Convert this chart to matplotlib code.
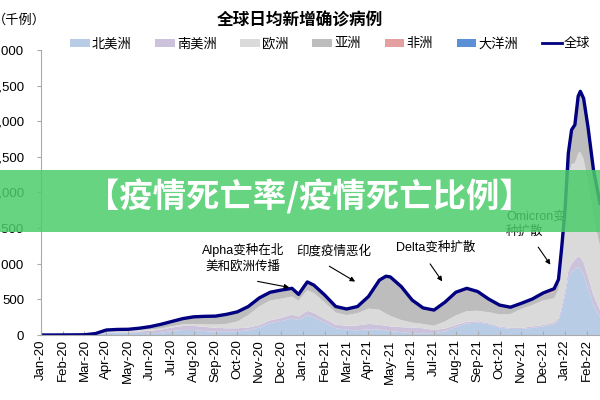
import matplotlib
matplotlib.use("Agg")
import matplotlib.pyplot as plt
from matplotlib.patches import Patch, Rectangle
from matplotlib.lines import Line2D

plt.rcParams['font.family'] = ['Liberation Sans', 'Noto Sans CJK SC', 'DejaVu Sans']

# time axis in months since Jan-2020 (0 = Jan-20)
months = [0, 0.5, 1, 1.5, 2, 2.5, 3, 3.5, 4, 4.5, 5, 5.5, 6, 6.5, 7, 7.5, 8, 8.5, 9, 9.5,
          10, 10.5, 11, 11.5, 11.8, 12.2, 12.5, 13, 13.5, 14, 14.5, 15, 15.5, 15.8, 16, 16.5,
          17, 17.5, 18, 18.5, 19, 19.5, 20, 20.5, 21, 21.5, 22, 22.5, 23, 23.5, 23.7, 23.85,
          24.0, 24.15, 24.3, 24.45, 24.6, 24.7, 24.85, 25.05, 25.3, 25.6]

# daily new cases, thousands
north_america = [0, 0, 0, 0, 0, 4, 30, 33, 33, 30, 25, 30, 55, 72, 70, 55, 47, 44, 50, 65,
                 105, 165, 195, 230, 210, 275, 245, 170, 95, 75, 65, 80, 75, 65, 55, 40,
                 25, 25, 25, 50, 110, 160, 175, 150, 105, 85, 85, 100, 120, 150, 200, 350,
                 550, 800, 880, 920, 950, 930, 850, 650, 420, 250]
south_america = [0, 0, 0, 0, 0, 0, 2, 4, 7, 20, 35, 45, 50, 55, 58, 58, 55, 50, 45, 40,
                 35, 40, 45, 55, 50, 65, 65, 55, 50, 55, 70, 75, 70, 65, 65, 70,
                 80, 70, 45, 40, 30, 25, 20, 15, 15, 15, 15, 20, 20, 25, 35, 60,
                 80, 100, 120, 140, 150, 160, 170, 170, 140, 100]
europe = [0, 0, 0, 0, 1, 13, 33, 32, 28, 22, 18, 17, 20, 23, 27, 35, 45, 62, 95, 175,
          260, 280, 270, 255, 220, 290, 280, 230, 170, 150, 170, 215, 210, 170, 150, 100,
          70, 60, 60, 100, 135, 150, 145, 155, 170, 195, 265, 300, 345, 340, 400, 650,
          900, 1300, 1400, 1350, 1450, 1480, 1450, 1330, 1100, 900]
asia = [0, 0, 1, 2, 2, 3, 5, 8, 10, 20, 33, 50, 55, 65, 83, 104, 110, 128, 128, 115,
        110, 100, 100, 90, 75, 85, 85, 85, 75, 75, 85, 160, 405, 515, 535, 460,
        300, 200, 195, 240, 290, 300, 255, 170, 120, 85, 70, 70, 80, 90, 100, 120,
        200, 300, 420, 480, 740, 800, 800, 730, 630, 580]
africa = [0, 0, 0, 0, 0, 0, 0, 1, 2, 3, 5, 8, 10, 14, 15, 9, 8, 6, 7, 5,
          10, 15, 20, 25, 15, 30, 25, 20, 10, 10, 10, 10, 10, 10, 10, 10,
          15, 25, 25, 30, 25, 15, 10, 10, 5, 5, 5, 10, 20, 40, 40, 50,
          20, 20, 20, 20, 20, 15, 15, 10, 10, 10]
oceania = [0, 0, 0, 0, 0, 0, 0, 0, 0, 0, 0, 0, 0, 1, 1, 1, 0, 0, 0, 0,
           0, 0, 0, 0, 0, 0, 0, 0, 0, 0, 0, 0, 0, 0, 0, 0,
           0, 0, 0, 0, 10, 5, 5, 5, 5, 5, 5, 5, 5, 5, 5, 10,
           10, 30, 40, 40, 40, 35, 35, 30, 20, 10]
world = [0, 0, 1, 2, 3, 20, 70, 78, 80, 95, 117, 150, 190, 230, 255, 262, 265, 290, 325, 400,
         520, 600, 630, 655, 570, 745, 700, 560, 400, 365, 400, 540, 770, 825, 815, 680,
         490, 380, 350, 460, 600, 655, 610, 505, 420, 390, 445, 505, 590, 650, 780, 1240,
         1760, 2550, 2880, 2950, 3350, 3420, 3320, 2920, 2320, 1850]

tick_labels = ['Jan-20', 'Feb-20', 'Mar-20', 'Apr-20', 'May-20', 'Jun-20', 'Jul-20', 'Aug-20',
               'Sep-20', 'Oct-20', 'Nov-20', 'Dec-20', 'Jan-21', 'Feb-21', 'Mar-21', 'Apr-21',
               'May-21', 'Jun-21', 'Jul-21', 'Aug-21', 'Sep-21', 'Oct-21', 'Nov-21', 'Dec-21',
               'Jan-22', 'Feb-22']

names = ['北美洲', '南美洲', '欧洲', '亚洲', '非洲', '大洋洲']
colors = ['#b8cce6', '#cdc2dc', '#dadada', '#bdbdbd', '#e4a0a0', '#5b8fd6']

fig = plt.figure(figsize=(6, 4), dpi=100)
ax = fig.add_axes([0.068, 0.1625, 0.932, 0.7125])

ax.stackplot(months, north_america, south_america, europe, asia, africa, oceania,
             colors=colors, linewidth=0)
ax.plot(months, world, color='#000080', lw=2.4)

ax.set_xlim(0, 25.6)
ax.set_ylim(0, 4000)
ax.set_yticks(range(0, 4001, 500))
ax.set_yticklabels([f'{v:,}' for v in range(0, 4001, 500)], fontsize=9.5)
ax.set_xticks(range(len(tick_labels)))
ax.set_xticklabels(tick_labels, rotation=90, fontsize=9.5)
ax.tick_params(axis='y', length=3, pad=9, color='#aaaaaa')
ax.tick_params(axis='x', direction='in', length=3, pad=3, color='#aaaaaa')
for s in ['top', 'right']:
    ax.spines[s].set_visible(False)
for s in ['left', 'bottom']:
    ax.spines[s].set_color('#aaaaaa')
    ax.spines[s].set_linewidth(0.8)

arrow = dict(arrowstyle='-|>', color='black', lw=0.8, mutation_scale=7)
ax.annotate('', xy=(11.5, 660), xytext=(9.8, 760), arrowprops=arrow)
ax.text(9.25, 1080, 'Alpha变种在北\n美和欧洲传播', ha='center', va='center', fontsize=9,
        linespacing=1.3)
ax.annotate('', xy=(14.5, 730), xytext=(13.1, 985), arrowprops=arrow)
ax.text(13.4, 1170, '印度疫情恶化', ha='center', va='center', fontsize=9)
ax.annotate('', xy=(18.45, 720), xytext=(17.75, 1030), arrowprops=arrow)
ax.text(18.1, 1225, 'Delta变种扩散', ha='center', va='center', fontsize=9)
ax.annotate('', xy=(23.4, 955), xytext=(22.7, 1265), arrowprops=arrow)
ax.text(21.3, 1550, 'Omicron变\n种扩散', ha='left', va='center', fontsize=9,
        linespacing=1.3)

fig.text(0.5, 0.948, '全球日均新增确诊病例', ha='center', va='center', fontsize=12,
         fontweight='bold')
fig.text(-0.012, 0.948, '（千例）', ha='left', va='center', fontsize=9.5)

handles = [Patch(facecolor=c, edgecolor='none') for c in colors]
handles.append(Line2D([0], [0], color='#000080', lw=2))
fig.legend(handles, names + ['全球'], loc='center', bbox_to_anchor=(0.55, 0.89), ncol=7,
           frameon=False, fontsize=9.5, handlelength=1.5, handleheight=0.6,
           columnspacing=1.8, handletextpad=0.15)

# green banner overlay
fig.patches.append(Rectangle((0, 0.42), 1, 0.155, transform=fig.transFigure,
                             facecolor='#4bcd6a', alpha=0.85, edgecolor='none', zorder=5))
fig.text(0.515, 0.508, '【疫情死亡率/疫情死亡比例】', ha='center', va='center', fontsize=24,
         fontweight='bold', color='white', zorder=6, family=['Noto Sans CJK SC'])

fig.savefig('out.png', dpi=100)
